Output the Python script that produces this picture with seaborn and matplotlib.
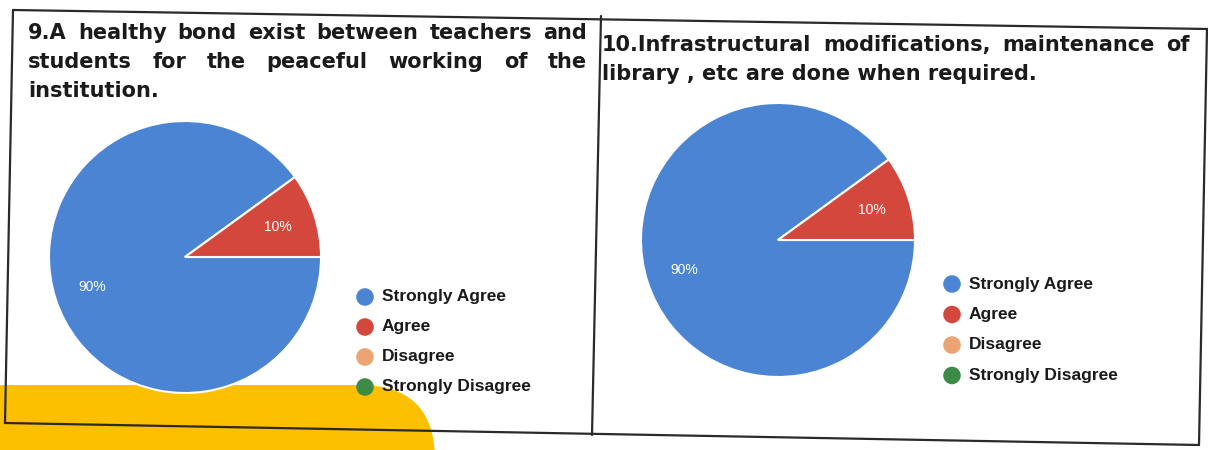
import matplotlib
matplotlib.use("Agg")
import matplotlib.pyplot as plt
import seaborn as sns
from matplotlib.patches import FancyBboxPatch
from matplotlib.lines import Line2D

# ---------------- dados ----------------
categorias = ['Strongly Agree', 'Agree', 'Disagree', 'Strongly Disagree']
respostas_q9 = [90, 10, 0, 0]
respostas_q10 = [90, 10, 0, 0]
titulo_q9 = ["9.A healthy bond exist between teachers and",
             "students for the peaceful working of the",
             "institution."]
titulo_q10 = ["10.Infrastructural modifications, maintenance of",
              "library , etc are done when required."]
cores = ['#4a84d3', '#d4473d', '#eca473', '#3e8b47']

# ---------------- estilo ----------------
sns.set_theme(style="white")
plt.rcParams['font.family'] = ['Liberation Sans', 'DejaVu Sans']

W, H = 1208, 450
fig = plt.figure(figsize=(W / 100, H / 100), dpi=100)
fig.patch.set_facecolor('white')

# fundo (mancha amarela do scan)
ax_fundo = fig.add_axes([0, 0, 1, 1], zorder=0)
ax_fundo.set_xlim(0, W)
ax_fundo.set_ylim(H, 0)
ax_fundo.axis('off')
ax_fundo.add_patch(FancyBboxPatch((-80, 385), 515, 150,
                                  boxstyle="round,pad=0,rounding_size=75",
                                  facecolor='#fcc000', edgecolor='none'))

# camada de texto e bordas
ax_txt = fig.add_axes([0, 0, 1, 1], zorder=3)
ax_txt.set_xlim(0, W)
ax_txt.set_ylim(H, 0)
ax_txt.axis('off')
ax_txt.patch.set_alpha(0)

bordas = [((13, 1208), (10, 29)),
          ((5, 1199), (423, 445)),
          ((13, 5), (10, 423)),
          ((601, 592), (16, 435)),
          ((1207, 1199), (29, 445))]
for xs, ys in bordas:
    ax_txt.add_line(Line2D(xs, ys, color='#2a2a2a', lw=1.6))


def texto_justificado(ax, linhas, x0, x1, y0, passo, tamanho):
    fig.canvas.draw()
    r = fig.canvas.get_renderer()
    for i, linha in enumerate(linhas):
        y = y0 + i * passo
        palavras = linha.split()
        estilo = dict(fontsize=tamanho, fontweight='bold', color='#1a1a1a',
                      va='center', ha='left', family='DejaVu Sans')
        if i == len(linhas) - 1:
            ax.text(x0, y, linha, **estilo)
            continue
        objs = [ax.text(0, y, p, **estilo) for p in palavras]
        larguras = [o.get_window_extent(r).width for o in objs]
        espaco = (x1 - x0 - sum(larguras)) / (len(palavras) - 1)
        x = x0
        for o, w in zip(objs, larguras):
            o.set_x(x)
            x += w + espaco


def desenha_pizza(rect, valores, pos_legenda):
    ax = fig.add_axes(rect, zorder=2)
    vals = [v for v in valores if v > 0]
    cs = [c for v, c in zip(valores, cores) if v > 0]
    _, _, autotexts = ax.pie(vals, colors=cs, startangle=36, counterclock=True,
                             autopct='%1.0f%%', pctdistance=0.72,
                             wedgeprops=dict(edgecolor='white', linewidth=1.5))
    for t in autotexts:
        t.set_color('white')
        t.set_fontsize(10)
    ax.set_xlim(-1, 1)
    ax.set_ylim(-1, 1)
    ax.set_aspect('equal')
    ax.axis('off')

    xl, yl, dy = pos_legenda
    for j, (cat, c) in enumerate(zip(categorias, cores)):
        y = yl + j * dy
        ax_txt.scatter([xl], [y], s=160, color=c, edgecolor='none')
        ax_txt.text(xl + 17, y, cat, fontsize=12.5, color='#1a1a1a',
                    va='center', ha='left', fontweight='bold')


def px_rect(cx, cy, r):
    return [(cx - r) / W, (H - cy - r) / H, 2 * r / W, 2 * r / H]


desenha_pizza(px_rect(185, 257, 136), respostas_q9, (365, 297, 30))
desenha_pizza(px_rect(778, 240, 137), respostas_q10, (952, 284, 30.5))

texto_justificado(ax_txt, titulo_q9, 28, 587, 33, 29, 15)
texto_justificado(ax_txt, titulo_q10, 602, 1190, 45, 29, 15)

plt.savefig('out.png', dpi=100)
